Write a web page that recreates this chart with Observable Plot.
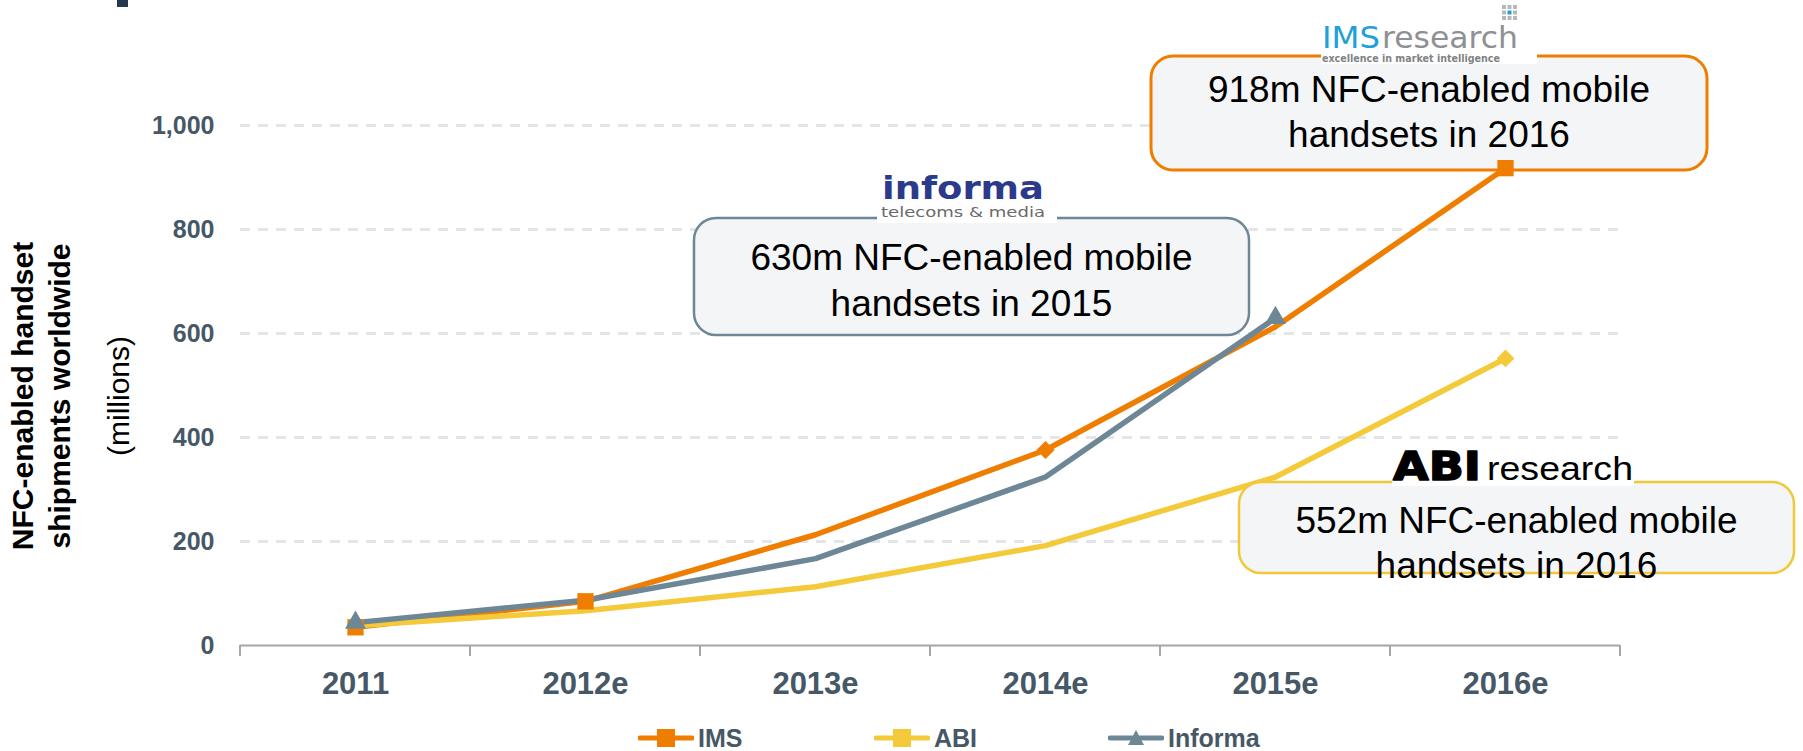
<!DOCTYPE html>
<html><head><meta charset="utf-8">
<script src="https://cdn.jsdelivr.net/npm/d3@7"></script>
<script src="https://cdn.jsdelivr.net/npm/@observablehq/plot@0.6"></script>
<style>
html,body{margin:0;padding:0;background:#fff;}
#wrap{position:relative;width:1803px;height:751px;overflow:hidden;font-family:"Liberation Sans",Arial,sans-serif;}
#wrap > svg{display:block;}
#legend{position:absolute;left:0;top:726px;height:24px;width:1803px;}
.li{position:absolute;top:0;height:24px;display:flex;align-items:center;font-weight:bold;font-size:25px;color:#465866;white-space:nowrap;}
.li svg{display:block;margin-right:4px;}
</style></head><body><div id="wrap"></div>
<script>
// ---------- data ----------
const years = ["2011", "2012e", "2013e", "2014e", "2015e", "2016e"];
const imsValues = [35, 85, 213, 376, 613, 918];
const abiValues = [38, 67, 113, 192, 324, 552];
const informaValues = [44, 87, 167, 324, 630]; // forecast ends 2015e
const yTicks = [0, 200, 400, 600, 800, 1000];
const seriesNames = ["IMS", "ABI", "Informa"];
const imsSquareYears = ["2011", "2012e", "2016e"];
const imsDiamondYears = ["2014e"];
const abiMarkerYears = ["2016e"];
const informaMarkerYears = ["2011", "2015e"];
const yTitleLines = ["NFC-enabled handset", "shipments worldwide"];
const yTitleUnit = "(millions)";
const callouts = [
  ["918m NFC-enabled mobile", "handsets in 2016"],
  ["630m NFC-enabled mobile", "handsets in 2015"],
  ["552m NFC-enabled mobile", "handsets in 2016"]
];

// ---------- styles ----------
const imsColor = "#EF7D00";
const abiColor = "#F4CA3A";
const informaColor = "#6E8797";
const labelColor = "#465866";

const toRows = (vals) => vals.map((value, i) => ({year: years[i], value}));
const imsData = toRows(imsValues);
const abiData = toRows(abiValues);
const informaData = toRows(informaValues);
const pick = (rows, ys) => rows.filter(d => ys.includes(d.year));

const chart = Plot.plot({
  width: 1803,
  height: 715,
  marginLeft: 240,
  marginRight: 183,
  marginTop: 125,
  marginBottom: 70,
  style: {fontFamily: "'Liberation Sans', Arial, sans-serif", background: "#fff"},
  x: {type: "point", domain: years, padding: 0.5, label: null},
  y: {domain: [0, 1000], label: null},
  marks: [
    Plot.ruleY(yTicks.filter(d => d > 0), {stroke: "#E3E6E9", strokeWidth: 3, strokeDasharray: "10,8"}),
    Plot.ruleY([0], {stroke: "#A6A6A6", strokeWidth: 2}),
    Plot.axisY({ticks: yTicks, tickFormat: d3.format(","), tickSize: 0, tickPadding: 26, fontSize: 25, fontWeight: "bold", color: labelColor, label: null}),
    Plot.axisX({tickSize: 0, tickPadding: 26, fontSize: 31, fontWeight: "bold", color: labelColor, label: null}),
    Plot.line(imsData, {x: "year", y: "value", stroke: imsColor, strokeWidth: 5.5}),
    Plot.dot(pick(imsData, imsSquareYears), {x: "year", y: "value", fill: imsColor, symbol: "square", r: 9.2}),
    Plot.dot(pick(imsData, imsDiamondYears), {x: "year", y: "value", fill: imsColor, symbol: "diamond2", r: 8.2}),
    Plot.line(abiData, {x: "year", y: "value", stroke: abiColor, strokeWidth: 5.5}),
    Plot.dot(pick(abiData, abiMarkerYears), {x: "year", y: "value", fill: abiColor, symbol: "diamond2", r: 8}),
    Plot.line(informaData, {x: "year", y: "value", stroke: informaColor, strokeWidth: 5.5}),
    Plot.dot(pick(informaData, informaMarkerYears), {x: "year", y: "value", fill: informaColor, symbol: "triangle", r: 7.8})
  ]
});
document.getElementById("wrap").appendChild(chart);

// ---------- decorations ----------
const svg = d3.select(chart);
const sx = chart.scale("x"), sy = chart.scale("y");
const xs = years.map(y => sx.apply(y));
const step = xs[1] - xs[0];
const y0 = sy.apply(0);
const tickG = svg.append("g");
for (let i = 0; i <= years.length; i++) {
  const x = xs[0] - step / 2 + i * step;
  tickG.append("line").attr("x1", x).attr("x2", x).attr("y1", y0).attr("y2", y0 + 11)
    .attr("stroke", "#A6A6A6").attr("stroke-width", 2);
}

// y-axis title
const ty = 396;
[[33, yTitleLines[0], "bold"], [70, yTitleLines[1], "bold"], [129, yTitleUnit, "normal"]].forEach(([bx, t, w]) => {
  svg.append("text").attr("transform", `translate(${bx},${ty}) rotate(-90)`)
    .attr("text-anchor", "middle").attr("font-size", 30).attr("font-weight", w)
    .attr("fill", "#000").attr("font-family", "'Liberation Sans', Arial, sans-serif").text(t);
});

// small dark mark top-left
svg.append("rect").attr("x", 117).attr("y", 0).attr("width", 11).attr("height", 7).attr("fill", "#24394D");

// callout boxes
const boxes = [
  {x0: 1151, x1: 1707, y0: 56, y1: 170, stroke: imsColor, sw: 3, base: [102, 147], lines: callouts[0]},
  {x0: 694, x1: 1249, y0: 218, y1: 335, stroke: informaColor, sw: 2.5, base: [270, 316], lines: callouts[1]},
  {x0: 1239, x1: 1794, y0: 482, y1: 573, stroke: "#F2C83A", sw: 2.5, base: [533, 578], lines: callouts[2]}
];
const boxG = svg.append("g");
boxes.forEach(b => {
  boxG.append("rect").attr("x", b.x0).attr("y", b.y0).attr("width", b.x1 - b.x0).attr("height", b.y1 - b.y0)
    .attr("rx", 22).attr("ry", 22).attr("fill", "#F4F5F7").attr("stroke", b.stroke).attr("stroke-width", b.sw);
  b.lines.forEach((t, i) => {
    boxG.append("text").attr("x", (b.x0 + b.x1) / 2).attr("y", b.base[i]).attr("text-anchor", "middle")
      .attr("font-size", 37).attr("fill", "#000").attr("font-family", "'Liberation Sans', Arial, sans-serif").text(t);
  });
});
// keep the data markers above the callouts
svg.selectAll('g[aria-label="dot"]').raise();

// logos
function txt(x, y, t, opts) {
  const e = svg.append("text").attr("x", x).attr("y", y).text(t)
    .attr("text-anchor", "start")
    .attr("font-family", opts.family || "'DejaVu Sans', sans-serif")
    .attr("font-size", opts.size).attr("fill", opts.fill || "#000")
    .attr("font-weight", opts.weight || "normal");
  if (opts.len) e.attr("textLength", opts.len).attr("lengthAdjust", "spacingAndGlyphs");
  if (opts.stroke) e.attr("stroke", opts.fill).attr("stroke-width", opts.stroke).attr("stroke-linejoin", "round");
  return e;
}
// IMS research
svg.append("rect").attr("x", 1321).attr("y", 0).attr("width", 216).attr("height", 64).attr("fill", "#fff");
for (let r = 0; r < 3; r++) for (let c = 0; c < 3; c++) {
  svg.append("rect").attr("x", 1502 + c * 5.5).attr("y", 5 + r * 5.5).attr("width", 4).attr("height", 4)
    .attr("fill", (r === 1 && c === 1) ? "#1FA0DA" : "#B4B8BC");
}
txt(1322, 48, "IMS", {size: 30, fill: "#1FA0DA", len: 58});
txt(1382, 48, "research", {size: 30, fill: "#8E9093", len: 136});
txt(1322, 62, "excellence in market intelligence", {size: 10, fill: "#808285", weight: "bold", len: 178});
// informa
svg.append("rect").attr("x", 877).attr("y", 168).attr("width", 180).attr("height", 55).attr("fill", "#fff");
txt(882, 199, "informa", {size: 32, fill: "#2B3A8A", weight: "bold", len: 162});
txt(881, 217, "telecoms & media", {size: 14, fill: "#6A6A6A", len: 164});
// ABI research
svg.append("rect").attr("x", 1392).attr("y", 448).attr("width", 242).attr("height", 38).attr("fill", "#fff");
txt(1393, 480, "ABI", {size: 39, weight: "bold", fill: "#000", len: 88, stroke: 1.5});
txt(1487, 480, "research", {size: 33, fill: "#000", len: 146, family: "'Liberation Sans', Arial, sans-serif"});

// ---------- legend ----------
const legend = document.createElement("div");
legend.id = "legend";
const legendItems = [
  {name: seriesNames[0], color: imsColor, left: 638, shape: "square"},
  {name: seriesNames[1], color: abiColor, left: 874, shape: "square"},
  {name: seriesNames[2], color: informaColor, left: 1108, shape: "triangle"}
];
legendItems.forEach(it => {
  const d = document.createElement("div");
  d.className = "li";
  d.style.left = it.left + "px";
  const marker = it.shape === "square"
    ? `<rect x="19" y="3" width="18" height="18" fill="${it.color}"/>`
    : `<path d="M28,4 L36,19 L20,19 Z" fill="${it.color}"/>`;
  d.innerHTML = `<svg width="56" height="24"><line x1="2" x2="54" y1="12" y2="12" stroke="${it.color}" stroke-width="5" stroke-linecap="round"/>${marker}</svg><span>${it.name}</span>`;
  legend.appendChild(d);
});
document.getElementById("wrap").appendChild(legend);
</script>
</body></html>
